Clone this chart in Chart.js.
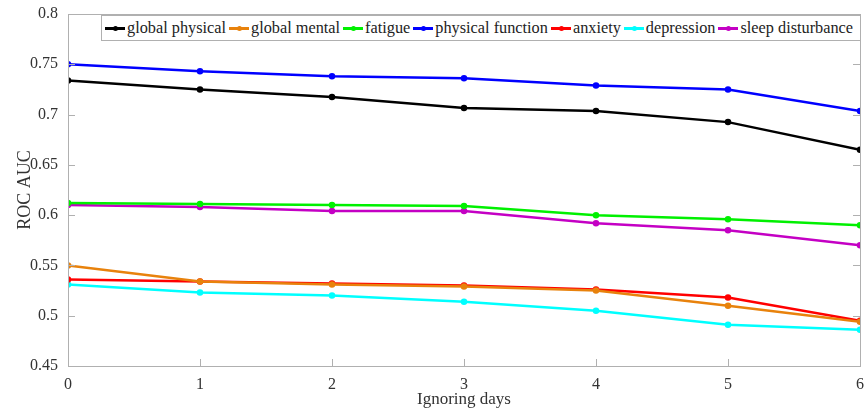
<!DOCTYPE html>
<html>
<head>
<meta charset="utf-8">
<script src="https://cdn.jsdelivr.net/npm/chart.js@4.4.1/dist/chart.umd.min.js"></script>
<style>
  body { margin: 0; background: #fff; }
  #wrap { position: relative; width: 868px; height: 418px; }
  #legend {
    position: absolute; left: 101px; top: 15px; height: 24px;
    border: 1px solid #b0b0b0; background: #fff;
    display: flex; align-items: center; padding: 0 4px 0 3px;
    font-family: "Liberation Serif", "Times New Roman", serif; font-size: 16.3px; color: #222;
    white-space: nowrap;
  }
  .item { display: flex; align-items: center; margin-right: 3px; }
  .swatch { position: relative; width: 20px; height: 3px; margin-right: 2px; }
  .swatch i { position: absolute; left: 8px; top: -1px; width: 5px; height: 5px; border-radius: 50%; }
</style>
</head>
<body>
<div id="wrap">
  <canvas id="chart" width="868" height="418"></canvas>
  <div id="legend"></div>
</div>
<script>
const days = [0, 1, 2, 3, 4, 5, 6];
const seriesNames = ['global physical', 'global mental', 'fatigue', 'physical function', 'anxiety', 'depression', 'sleep disturbance'];
const seriesColors = ['#000000', '#e8820c', '#00f000', '#0000ff', '#ff0000', '#00ffff', '#c400c4'];

const globalPhysical = [0.734, 0.725, 0.7175, 0.7065, 0.7035, 0.6925, 0.665];
const globalMental = [0.550, 0.534, 0.531, 0.529, 0.525, 0.510, 0.494];
const fatigue = [0.612, 0.611, 0.610, 0.609, 0.600, 0.596, 0.590];
const physicalFunction = [0.750, 0.743, 0.738, 0.736, 0.729, 0.725, 0.7035];
const anxiety = [0.536, 0.534, 0.532, 0.530, 0.526, 0.518, 0.495];
const depression = [0.531, 0.523, 0.520, 0.514, 0.505, 0.491, 0.486];
const sleepDisturbance = [0.610, 0.608, 0.604, 0.604, 0.592, 0.585, 0.570];

const allSeries = [globalPhysical, globalMental, fatigue, physicalFunction, anxiety, depression, sleepDisturbance];

const yMin = 0.45, yMax = 0.8, yStep = 0.05;

const datasets = allSeries.map((vals, i) => ({
  label: seriesNames[i],
  data: vals.map((v, j) => ({ x: days[j], y: v })),
  borderColor: seriesColors[i],
  backgroundColor: seriesColors[i],
  borderWidth: 2.5,
  pointRadius: 2,
  pointHoverRadius: 2,
  tension: 0,
}));

// matlab style box with inward ticks
const boxPlugin = {
  id: 'box',
  afterDraw(chart) {
    const { ctx, chartArea: a, scales } = chart;
    ctx.save();
    ctx.strokeStyle = '#b0b0b0';
    ctx.lineWidth = 1;
    ctx.strokeRect(a.left + 0.5, a.top + 0.5, a.right - a.left, a.bottom - a.top);
    ctx.beginPath();
    scales.x.ticks.forEach(t => {
      const px = Math.round(scales.x.getPixelForValue(t.value)) + 0.5;
      ctx.moveTo(px, a.bottom); ctx.lineTo(px, a.bottom - 7);
      ctx.moveTo(px, a.top); ctx.lineTo(px, a.top + 7);
    });
    scales.y.ticks.forEach(t => {
      const py = Math.round(scales.y.getPixelForValue(t.value)) + 0.5;
      ctx.moveTo(a.left, py); ctx.lineTo(a.left + 7, py);
      ctx.moveTo(a.right, py); ctx.lineTo(a.right - 7, py);
    });
    ctx.stroke();
    ctx.restore();
  }
};

const tickFont = { family: '"Liberation Serif", serif', size: 16 };
const titleFont = { family: '"Liberation Serif", serif', size: 17 };

new Chart(document.getElementById('chart'), {
  type: 'line',
  data: { datasets },
  options: {
    responsive: false,
    animation: false,
    layout: { padding: { top: 14, right: 8, left: 0, bottom: 0 } },
    plugins: { legend: { display: false }, tooltip: { enabled: false } },
    scales: {
      x: {
        type: 'linear', min: 0, max: 6,
        ticks: { stepSize: 1, color: '#333', font: tickFont, padding: 1 },
        grid: { display: false },
        border: { display: false },
        title: { display: true, text: 'Ignoring days', color: '#333', font: titleFont, padding: { top: 0, bottom: 8 } },
        afterFit(s) { s.height = 52; }
      },
      y: {
        min: yMin, max: yMax,
        ticks: {
          stepSize: yStep, color: '#333', font: tickFont, padding: 2,
          callback: v => String(Number(v.toFixed(2)))
        },
        grid: { display: false },
        border: { display: false },
        title: { display: true, text: 'ROC AUC', color: '#333', font: { family: '"Liberation Serif", serif', size: 18 }, padding: { top: 14, bottom: 0 } },
        afterFit(s) { s.width = 68; }
      }
    }
  },
  plugins: [boxPlugin]
});

const legendEl = document.getElementById('legend');
seriesNames.forEach((name, i) => {
  const item = document.createElement('div');
  item.className = 'item';
  item.innerHTML = '<div class="swatch" style="background:' + seriesColors[i] + '"><i style="background:' + seriesColors[i] + '"></i></div><span>' + name + '</span>';
  legendEl.appendChild(item);
});
</script>
</body>
</html>
